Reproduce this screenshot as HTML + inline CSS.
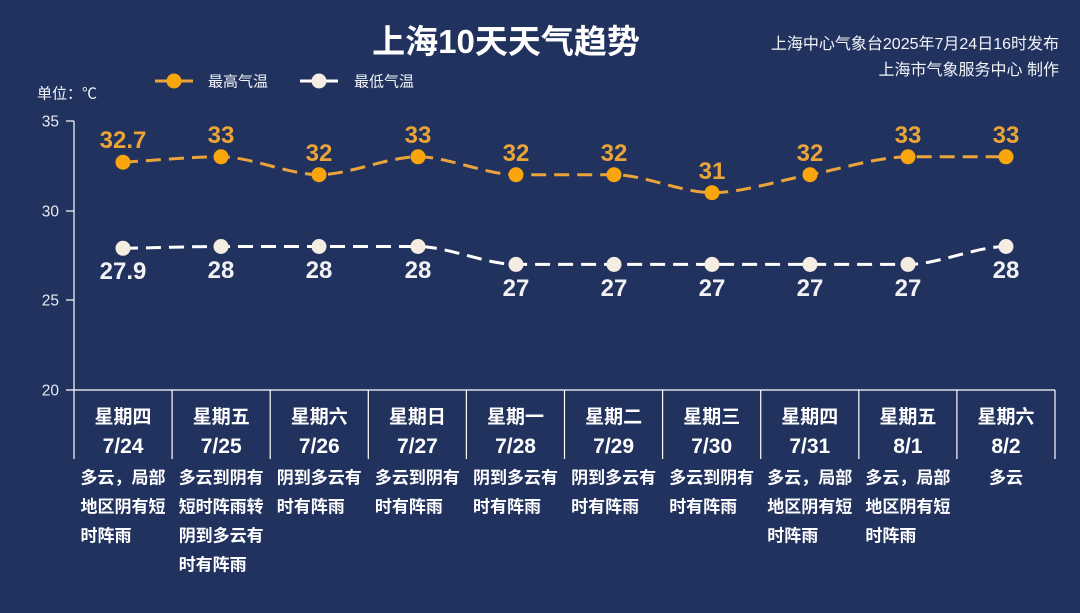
<!DOCTYPE html>
<html><head><meta charset="utf-8"><style>
html,body{margin:0;padding:0;background:#22325f;}
svg{display:block;}
text{font-family:"Liberation Sans","Noto Sans CJK SC",sans-serif;}
</style></head><body>
<svg width="1080" height="613" viewBox="0 0 1080 613" xmlns="http://www.w3.org/2000/svg">
<rect width="1080" height="613" fill="#22325f"/>
<!-- title -->
<text x="506" y="53" text-anchor="middle" font-size="33" font-weight="bold" fill="#ffffff">上海10天天气趋势</text>
<text x="1059" y="49" text-anchor="end" font-size="16" fill="#f2f4f8">上海中心气象台2025年7月24日16时发布</text>
<text x="1059" y="75" text-anchor="end" font-size="16" fill="#f2f4f8">上海市气象服务中心 制作</text>
<!-- legend -->
<line x1="155" y1="81" x2="193" y2="81" stroke="#eaa43a" stroke-width="3"/>
<circle cx="174" cy="81" r="7.5" fill="#f9a60c"/>
<text x="208" y="86.5" font-size="15" fill="#f2f4f8">最高气温</text>
<line x1="300" y1="81" x2="338" y2="81" stroke="#ffffff" stroke-width="3"/>
<circle cx="319" cy="81" r="7.5" fill="#f5ede2"/>
<text x="354" y="86.5" font-size="15" fill="#f2f4f8">最低气温</text>
<text x="37" y="98.5" font-size="15" fill="#f2f4f8">单位：℃</text>
<!-- axes -->
<g stroke="#ffffff" stroke-width="1.2" fill="none">
<line x1="74" y1="121" x2="74" y2="459"/>
<line x1="66" y1="390" x2="1055" y2="390"/>
<line x1="66" y1="121" x2="74" y2="121"/>
<line x1="66" y1="211" x2="74" y2="211"/>
<line x1="66" y1="300" x2="74" y2="300"/>
<line x1="172.1" y1="390" x2="172.1" y2="459"/>
<line x1="270.2" y1="390" x2="270.2" y2="459"/>
<line x1="368.3" y1="390" x2="368.3" y2="459"/>
<line x1="466.4" y1="390" x2="466.4" y2="459"/>
<line x1="564.5" y1="390" x2="564.5" y2="459"/>
<line x1="662.6" y1="390" x2="662.6" y2="459"/>
<line x1="760.7" y1="390" x2="760.7" y2="459"/>
<line x1="858.8" y1="390" x2="858.8" y2="459"/>
<line x1="956.9" y1="390" x2="956.9" y2="459"/>
<line x1="1055" y1="390" x2="1055" y2="459"/>
</g>
<g font-size="15.5" fill="#e8ebf2" text-anchor="end">
<text x="59" y="126.5">35</text>
<text x="59" y="216.5">30</text>
<text x="59" y="305.5">25</text>
<text x="59" y="395.5">20</text>
</g>
<!-- high line -->
<path d="M123,162.2 C153,160.5 191,156.8 221,156.8 C251,156.8 289,174.7 319,174.7 C349,174.7 388,156.8 418,156.8 C448,156.8 486,174.7 516,174.7 L614,174.7 C644,174.7 682,192.7 712,192.7 C742,192.7 780,180.2 810,174.7 C840,169.2 878,156.8 908,156.8 L1006,156.8" fill="none" stroke="#eaa43a" stroke-width="3" stroke-dasharray="15 8"/>
<g fill="#f9a60c">
<circle cx="123" cy="162.2" r="7.5"/><circle cx="221" cy="156.8" r="7.5"/><circle cx="319" cy="174.7" r="7.5"/><circle cx="418" cy="156.8" r="7.5"/><circle cx="516" cy="174.7" r="7.5"/><circle cx="614" cy="174.7" r="7.5"/><circle cx="712" cy="192.7" r="7.5"/><circle cx="810" cy="174.7" r="7.5"/><circle cx="908" cy="156.8" r="7.5"/><circle cx="1006" cy="156.8" r="7.5"/>
</g>
<g font-size="24" font-weight="bold" fill="#eaa536" text-anchor="middle">
<text x="123" y="148">32.7</text><text x="221" y="143">33</text><text x="319" y="161">32</text><text x="418" y="143">33</text><text x="516" y="161">32</text><text x="614" y="161">32</text><text x="712" y="179">31</text><text x="810" y="161">32</text><text x="908" y="143">33</text><text x="1006" y="143">33</text>
</g>
<!-- low line -->
<path d="M123,248.3 C153,247.8 191,246.5 221,246.5 L418,246.5 C448,246.5 486,264.4 516,264.4 L908,264.4 C938,264.4 976,246.5 1006,246.5" fill="none" stroke="#ffffff" stroke-width="3" stroke-dasharray="15 8"/>
<g fill="#f5ede2">
<circle cx="123" cy="248.3" r="7.5"/><circle cx="221" cy="246.5" r="7.5"/><circle cx="319" cy="246.5" r="7.5"/><circle cx="418" cy="246.5" r="7.5"/><circle cx="516" cy="264.4" r="7.5"/><circle cx="614" cy="264.4" r="7.5"/><circle cx="712" cy="264.4" r="7.5"/><circle cx="810" cy="264.4" r="7.5"/><circle cx="908" cy="264.4" r="7.5"/><circle cx="1006" cy="246.5" r="7.5"/>
</g>
<g font-size="24" font-weight="bold" fill="#f2f2f4" text-anchor="middle">
<text x="123" y="279">27.9</text><text x="221" y="278">28</text><text x="319" y="278">28</text><text x="418" y="278">28</text><text x="516" y="296">27</text><text x="614" y="296">27</text><text x="712" y="296">27</text><text x="810" y="296">27</text><text x="908" y="296">27</text><text x="1006" y="278">28</text>
</g>
<!-- table header -->
<g font-size="19" font-weight="bold" fill="#ffffff" text-anchor="middle">
<text x="123" y="423">星期四</text><text x="221.2" y="423">星期五</text><text x="319.3" y="423">星期六</text><text x="417.4" y="423">星期日</text><text x="515.5" y="423">星期一</text><text x="613.6" y="423">星期二</text><text x="711.7" y="423">星期三</text><text x="809.8" y="423">星期四</text><text x="907.9" y="423">星期五</text><text x="1006" y="423">星期六</text>
</g>
<g font-size="21" font-weight="bold" fill="#ffffff" text-anchor="middle">
<text x="123" y="453">7/24</text><text x="221.2" y="453">7/25</text><text x="319.3" y="453">7/26</text><text x="417.4" y="453">7/27</text><text x="515.5" y="453">7/28</text><text x="613.6" y="453">7/29</text><text x="711.7" y="453">7/30</text><text x="809.8" y="453">7/31</text><text x="907.9" y="453">8/1</text><text x="1006" y="453">8/2</text>
</g>
<!-- weather descriptions -->
<g font-size="17" font-weight="bold" fill="#ffffff">
<text x="80.5" y="483.5">多云，局部</text><text x="80.5" y="512.5">地区阴有短</text><text x="80.5" y="541.5">时阵雨</text>
<text x="178.7" y="483.5">多云到阴有</text><text x="178.7" y="512.5">短时阵雨转</text><text x="178.7" y="541.5">阴到多云有</text><text x="178.7" y="570.5">时有阵雨</text>
<text x="276.8" y="483.5">阴到多云有</text><text x="276.8" y="512.5">时有阵雨</text>
<text x="374.9" y="483.5">多云到阴有</text><text x="374.9" y="512.5">时有阵雨</text>
<text x="473" y="483.5">阴到多云有</text><text x="473" y="512.5">时有阵雨</text>
<text x="571.1" y="483.5">阴到多云有</text><text x="571.1" y="512.5">时有阵雨</text>
<text x="669.2" y="483.5">多云到阴有</text><text x="669.2" y="512.5">时有阵雨</text>
<text x="767.3" y="483.5">多云，局部</text><text x="767.3" y="512.5">地区阴有短</text><text x="767.3" y="541.5">时阵雨</text>
<text x="865.4" y="483.5">多云，局部</text><text x="865.4" y="512.5">地区阴有短</text><text x="865.4" y="541.5">时阵雨</text>
<text x="989" y="483.5">多云</text>
</g>
</svg>
</body></html>
